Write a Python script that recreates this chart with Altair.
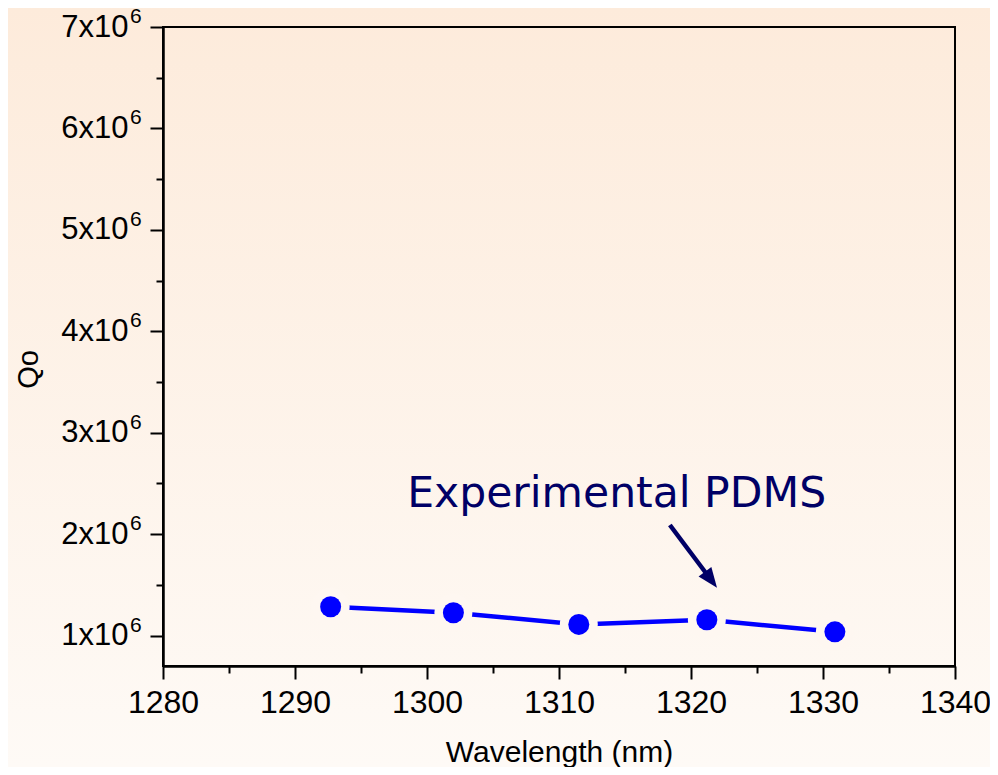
import altair as alt
import pandas as pd

# ---- data ----
wavelength = [1292.7, 1302.0, 1311.5, 1321.2, 1330.9]
qo = [1.284e6, 1.225e6, 1.110e6, 1.156e6, 1.037e6]

x_major = [1280, 1290, 1300, 1310, 1320, 1330, 1340]
x_minor = [1285, 1295, 1305, 1315, 1325, 1335]
y_major = [1e6, 2e6, 3e6, 4e6, 5e6, 6e6, 7e6]
y_minor = [1.5e6, 2.5e6, 3.5e6, 4.5e6, 5.5e6, 6.5e6]
sup_text = ["6"] * len(y_major)

ann_text = ["Experimental PDMS"]
ann_x = [1298.5]
ann_y = [2.27e6]
arrow_x = [1318.4]
arrow_y = [2.09e6]
arrow_x2 = [1321.4]
arrow_y2 = [1.57e6]

x_domain = [1280, 1340]
y_domain = [0.7e6, 7.0e6]

W, H = 792, 639
NAVY = "#000066"
BLUE = "#0000FF"

df = pd.DataFrame({"wavelength": wavelength, "qo": qo})
ann = pd.DataFrame({"x": ann_x, "y": ann_y, "t": ann_text})
arr = pd.DataFrame({"x": arrow_x, "y": arrow_y, "x2": arrow_x2, "y2": arrow_y2})
sup = pd.DataFrame({"v": y_major, "t": sup_text})
one = pd.DataFrame({"a": [0]})

xs = alt.Scale(domain=x_domain, nice=False, zero=False)
ys = alt.Scale(domain=y_domain, nice=False, zero=False)

bg = alt.Chart(one).mark_rect(
    fill=alt.Gradient(
        gradient="linear",
        stops=[alt.GradientStop(color="#FDEBDB", offset=0),
               alt.GradientStop(color="#FEFAF6", offset=1)],
        x1=0, x2=0, y1=0, y2=1,
    )
).encode(x=alt.value(-155), x2=alt.value(W + 35), y=alt.value(-19), y2=alt.value(H + 101))

common = dict(tickWidth=2, tickColor="black", domainColor="black", domainWidth=2,
              grid=False, zindex=1)

x_axis = alt.Axis(
    orient="bottom", values=x_major, format="d", tickSize=13,
    labelFont="Liberation Sans", labelFontSize=32, labelColor="black",
    labelPadding=8, labelFlush=False, labelOverlap=False, labelBound=False,
    titleFont="Liberation Sans", titleFontSize=30, titleFontWeight="normal",
    titleColor="black", titleY=95, titleBaseline="alphabetic", **common,
)
y_axis = alt.Axis(
    orient="left", values=y_major,
    labelExpr="format(datum.value / 1000000, 'd') + 'x10'", tickSize=13,
    labelFont="Liberation Sans", labelFontSize=31, labelColor="black",
    labelPadding=22, labelFlush=False, labelOverlap=False, labelBound=False,
    titleFont="Liberation Sans", titleFontSize=29, titleFontWeight="normal",
    titleColor="black", titleX=-126, titleY=342, titleAngle=-90,
    titleAlign="center", titleBaseline="alphabetic", **common,
)
x_minor_axis = alt.Axis(orient="bottom", values=x_minor, tickSize=7, labels=False,
                        title=None, **common)
y_minor_axis = alt.Axis(orient="left", values=y_minor, tickSize=7, labels=False,
                        title=None, **common)

line = alt.Chart(df).mark_line(color=BLUE, strokeWidth=4.5, strokeCap="round").encode(
    x=alt.X("wavelength:Q", scale=xs, axis=x_axis, title="Wavelength (nm)"),
    y=alt.Y("qo:Q", scale=ys, axis=y_axis, title="Qo"),
)
minor = alt.Chart(df).mark_point(opacity=0).encode(
    x=alt.X("wavelength:Q", scale=xs, axis=x_minor_axis),
    y=alt.Y("qo:Q", scale=ys, axis=y_minor_axis),
)
halo = alt.Chart(df).mark_circle(size=1444, color="#FEF7F1", opacity=1).encode(
    x=alt.X("wavelength:Q", scale=xs, axis=None),
    y=alt.Y("qo:Q", scale=ys, axis=None),
)
pts = alt.Chart(df).mark_circle(size=441, color=BLUE, opacity=1).encode(
    x=alt.X("wavelength:Q", scale=xs, axis=None),
    y=alt.Y("qo:Q", scale=ys, axis=None),
)
frame = alt.Chart(one).mark_rect(fillOpacity=0, stroke="black", strokeWidth=2).encode(
    x=alt.X(datum=x_domain[0], scale=xs, axis=None),
    x2=alt.X2(datum=x_domain[1]),
    y=alt.Y(datum=y_domain[0], scale=ys, axis=None),
    y2=alt.Y2(datum=y_domain[1]),
)
arrow_line = alt.Chart(arr).mark_rule(color=NAVY, strokeWidth=4.5).encode(
    x=alt.X("x:Q", scale=xs, axis=None), x2="x2:Q",
    y=alt.Y("y:Q", scale=ys, axis=None), y2="y2:Q",
)
arrow_head = alt.Chart(arr).mark_point(
    shape="M0,-1L0.64,0.6L-0.64,0.6Z", filled=True, fill=NAVY, stroke=NAVY,
    strokeWidth=0, size=625, angle=143, opacity=1,
).encode(
    x=alt.X("x2:Q", scale=xs, axis=None),
    y=alt.Y("y2:Q", scale=ys, axis=None),
)
label = alt.Chart(ann).mark_text(
    align="left", baseline="alphabetic", font="DejaVu Sans", fontSize=42.5, color=NAVY
).encode(
    x=alt.X("x:Q", scale=xs, axis=None),
    y=alt.Y("y:Q", scale=ys, axis=None),
    text="t:N",
)
sups = alt.Chart(sup).mark_text(
    align="left", baseline="alphabetic", font="Liberation Sans", fontSize=21,
    color="black", dy=-4,
).encode(
    x=alt.value(-33),
    y=alt.Y("v:Q", scale=ys, axis=None),
    text="t:N",
)

chart = alt.layer(
    bg, line, minor, halo, pts, frame, arrow_line, arrow_head, label, sups
).resolve_axis(
    x="independent", y="independent"
).properties(
    width=W, height=H,
    autosize=alt.AutoSizeParams(type="none"),
    padding={"left": 155, "top": 19, "right": 35, "bottom": 101},
).configure(background="#FEFAF6").configure_view(strokeWidth=0)

chart.save("out.html", embed_options={"renderer": "svg", "actions": False})
